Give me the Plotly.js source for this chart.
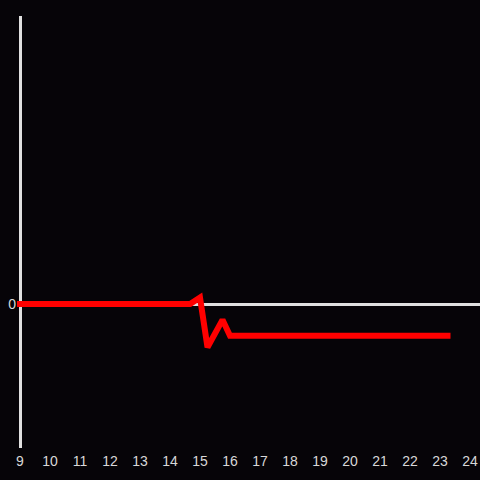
<!DOCTYPE html>
<html>
<head>
<meta charset="utf-8">
<script src="https://cdn.plot.ly/plotly-3.0.1.min.js"></script>
<style>
html,body{margin:0;padding:0;background:#060408;}
.scatterlayer path.js-line{stroke-linecap:square;}
</style>
</head>
<body>
<div id="chart" style="width:480px;height:480px;"></div>
<script>
var hours = [9, 14.67, 15, 15.25, 15.75, 16, 23.25];
var values = [0, 0, 0.045, -0.3, -0.11, -0.22, -0.22];
var xTicks = [9, 10, 11, 12, 13, 14, 15, 16, 17, 18, 19, 20, 21, 22, 23, 24];

var trace = {
  x: hours,
  y: values,
  type: 'scatter',
  mode: 'lines',
  line: {color: '#ff0000', width: 6},
  hoverinfo: 'skip'
};

var layout = {
  width: 480,
  height: 480,
  paper_bgcolor: '#060408',
  plot_bgcolor: '#060408',
  margin: {l: 17, r: 0, t: 16, b: 32},
  showlegend: false,
  font: {family: 'Liberation Sans, Arial, sans-serif', size: 14, color: '#d8d8d8'},
  xaxis: {
    range: [8.9, 24.333],
    tickvals: xTicks,
    ticktext: xTicks.map(String),
    showgrid: false,
    zeroline: false,
    showline: false,
    ticks: '',
    ticklabelstandoff: 3,
    tickfont: {size: 14, color: '#d8d8d8'}
  },
  yaxis: {
    range: [-1, 2],
    tickvals: [0],
    ticktext: ['0'],
    showgrid: false,
    zeroline: true,
    zerolinecolor: '#e0e0e0',
    zerolinewidth: 3,
    showline: false,
    ticks: '',
    tickfont: {size: 14, color: '#d8d8d8'}
  },
  shapes: [{
    type: 'line',
    xref: 'x', yref: 'paper',
    x0: 9.0167, x1: 9.0167, y0: 0, y1: 1,
    layer: 'below',
    line: {color: '#e0e0e0', width: 3}
  }]
};

Plotly.newPlot('chart', [trace], layout, {displayModeBar: false, staticPlot: true});
</script>
</body>
</html>
